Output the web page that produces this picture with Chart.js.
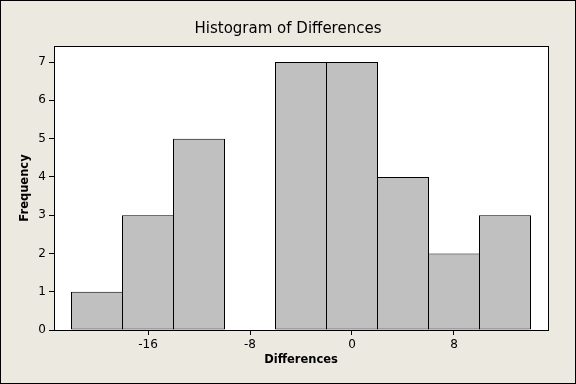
<!DOCTYPE html>
<html>
<head>
<meta charset="utf-8">
<script src="https://cdn.jsdelivr.net/npm/chart.js@4/dist/chart.umd.min.js"></script>
<style>
html,body{margin:0;padding:0;background:#ECE9E0;}
canvas{display:block;}
</style>
</head>
<body>
<canvas id="c" width="576" height="384"></canvas>
<script>
const binCenters = [-20, -16, -12, -8, -4, 0, 4, 8, 12];
const frequencies = [1, 3, 5, 0, 7, 7, 4, 2, 3];
const xTickValues = [-16, -8, 0, 8];
const yTickValues = [0, 1, 2, 3, 4, 5, 6, 7];
const titleText = 'Histogram of Differences';
const xTitle = 'Differences';
const yTitle = 'Frequency';

const frame = {
  id: 'frame',
  beforeDraw(chart) {
    const {ctx, chartArea: a} = chart;
    ctx.save();
    ctx.fillStyle = '#ECE9E0';
    ctx.fillRect(0, 0, chart.width, chart.height);
    ctx.fillStyle = '#FFFFFF';
    ctx.fillRect(a.left, a.top, a.right - a.left, a.bottom - a.top);
    ctx.restore();
  },
  afterDraw(chart) {
    const {ctx, chartArea: a} = chart;
    ctx.save();
    ctx.strokeStyle = '#000000';
    ctx.lineWidth = 1;
    ctx.strokeRect(Math.round(a.left) + 0.5, Math.round(a.top) + 0.5,
      Math.round(a.right - a.left), Math.round(a.bottom - a.top));
    ctx.strokeRect(0.5, 0.5, chart.width - 1, chart.height - 1);
    ctx.restore();
  }
};

new Chart(document.getElementById('c'), {
  type: 'bar',
  data: {
    datasets: [{
      data: binCenters.map((x, i) => ({x: x, y: frequencies[i]})),
      backgroundColor: '#C0C0C0',
      borderColor: '#000000',
      borderWidth: 1,
      borderSkipped: false,
      barPercentage: 52 / 51,
      categoryPercentage: 1,
      yAxisID: 'y'
    }]
  },
  options: {
    responsive: false,
    animation: false,
    devicePixelRatio: 1,
    layout: {padding: 0},
    plugins: {
      legend: {display: false},
      tooltip: {enabled: false},
      title: {
        display: true,
        text: titleText,
        color: '#000000',
        font: {family: 'DejaVu Sans', size: 15, weight: 'normal', lineHeight: 1.2},
        padding: {top: 20, bottom: 8}
      }
    },
    scales: {
      x: {
        type: 'linear',
        offset: false,
        min: -23.37255,
        max: 15.37255,
        afterBuildTicks: s => { s.ticks = xTickValues.map(v => ({value: v})); },
        afterFit: s => { s.height = 54; },
        border: {display: false},
        grid: {display: true, offset: false, drawOnChartArea: false, drawTicks: true, tickLength: 5, color: '#000000'},
        ticks: {color: '#000000', padding: 3, maxRotation: 0, font: {family: 'DejaVu Sans', size: 12}},
        title: {
          display: true, text: xTitle, color: '#000000',
          font: {family: 'DejaVu Sans', size: 11.5, weight: 'bold', lineHeight: 1.2},
          padding: {top: 0, bottom: 17}
        }
      },
      y: {
        type: 'linear',
        position: 'left',
        min: 0,
        max: 7.42,
        afterBuildTicks: s => { s.ticks = yTickValues.map(v => ({value: v})); },
        afterFit: s => { s.width = 54; },
        border: {display: false},
        grid: {display: true, drawOnChartArea: false, drawTicks: true, tickLength: 5, color: '#000000'},
        ticks: {color: '#000000', padding: 3, font: {family: 'DejaVu Sans', size: 12}},
        title: {
          display: true, text: yTitle, color: '#000000',
          font: {family: 'DejaVu Sans', size: 11.5, weight: 'bold', lineHeight: 1.2},
          padding: {top: 18, bottom: 0}
        }
      },
      yRight: {
        type: 'linear',
        position: 'right',
        min: 0,
        max: 1,
        afterFit: s => { s.width = 28; },
        border: {display: false},
        grid: {display: false},
        ticks: {display: false}
      }
    }
  },
  plugins: [frame]
});
</script>
</body>
</html>
